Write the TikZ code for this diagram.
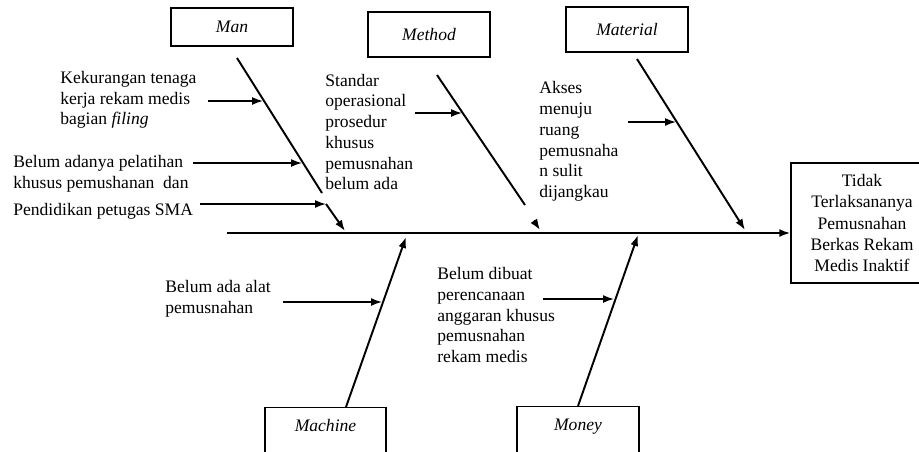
\documentclass[tikz,border=0pt]{standalone}
\usepackage{fontspec}
\setmainfont{Liberation Serif}
\usetikzlibrary{arrows.meta,calc}
\tikzset{
  >={Latex[length=2.2mm,width=1.6mm]},
  x=0.02cm, y=-0.02cm,
}
\tikzstyle{bone}=[line width=1.1pt]
\tikzstyle{cause}=[line width=0.9pt,->]
\tikzstyle{cat}=[draw,line width=0.8pt,minimum width=2.44cm,minimum height=0.9cm,font=\fontsize{10}{12}\selectfont\itshape]
\tikzstyle{lowcat}=[cat,anchor=north,text height=10pt,text depth=30pt]
\tikzstyle{note}=[inner sep=0pt,anchor=west,align=left]
\tikzstyle{every node}=[font=\fontsize{10}{11.8}\selectfont]

\begin{document}
\begin{tikzpicture}
    \useasboundingbox (0,0) rectangle (919,451);
    \clip (0,0) rectangle (919,451);
    \node[cat,minimum height=0.76cm] (man) at (232,27) {Man};
    \node[cat] (method) at (429,34.5) {Method};
    \node[cat] (material) at (627,29.5) {Material};
    \node[lowcat,minimum width=2.42cm] (machine) at (325.5,407) {Machine};
    \node[lowcat] (money) at (578,406) {Money};
    \node[draw,line width=0.8pt,minimum width=2.84cm,minimum height=2.4cm,align=center,
      font=\fontsize{10}{12}\selectfont] (effect) at (862,223)
      {Tidak\\Terlaksananya\\Pemusnahan\\Berkas Rekam\\Medis Inaktif};
    \node[note] (kurang) at (60,100) {Kekurangan tenaga\\kerja rekam medis\\bagian \textit{filing}};
    \node[note] (latih) at (13,173.5) {Belum adanya pelatihan\\khusus pemushanan\ \ dan};
    \node[note] (sma) at (13,211) {Pendidikan petugas SMA};
    \node[note] (sop) at (325,132) {Standar\\operasional\\prosedur\\khusus\\pemusnahan\\belum ada};
    \node[note] (akses) at (539,141.5) {Akses\\menuju\\ruang\\pemusnaha\\n sulit\\dijangkau};
    \node[note] (alat) at (165,298.5) {Belum ada alat\\pemusnahan};
    \node[note] (dana) at (437,315) {Belum dibuat\\perencanaan\\anggaran khusus\\pemusnahan\\rekam medis};
    \coordinate (s0) at (227,233);
    \coordinate (m0) at (237,58);
    \coordinate (m1) at (322,193);
    \coordinate (m2) at (345,231);
    \coordinate (t0) at (437,75);
    \coordinate (t1) at (525,205);
    \coordinate (t2) at (540,230);
    \coordinate (r0) at (637,59);
    \coordinate (r1) at (745,230);
    \coordinate (a0) at (346,407);
    \coordinate (a1) at (406,237);
    \coordinate (y1) at (638,235);
    \coordinate (k0) at (208,101);
    \coordinate (k1) at (263,101);
    \coordinate (l0) at (193,163);
    \coordinate (l1) at (302,163);
    \coordinate (p0) at (200,204);
    \coordinate (p1) at (326,204);
    \coordinate (d0) at (415,113);
    \coordinate (d1) at (462,113);
    \coordinate (e0) at (628,122);
    \coordinate (e1) at (676,122);
    \coordinate (f0) at (283,302);
    \coordinate (f1) at (382,302);
    \coordinate (g0) at (543,299);
    \coordinate (g1) at (614,299);
    \draw[bone,->] (s0) -- (s0 -| effect.west);
    \draw[bone] (m0) -- (m1);
    \draw[bone,->] (p1) -- (m2);
    \draw[bone] (t0) -- (t1);
    \draw[bone,->] ($(t0)!0.94!(t2)$) -- (t2);
    \draw[bone,->] (r0) -- (r1);
    \draw[bone,->] (a0) -- (a1);
    \draw[bone,->] (money.north) -- (y1);
    \draw[cause] (k0) -- (k1);
    \draw[cause] (l0) -- (l1);
    \draw[cause] (p0) -- (p1);
    \draw[cause] (d0) -- (d1);
    \draw[cause] (e0) -- (e1);
    \draw[cause] (f0) -- (f1);
    \draw[cause] (g0) -- (g1);
\end{tikzpicture}
\end{document}
